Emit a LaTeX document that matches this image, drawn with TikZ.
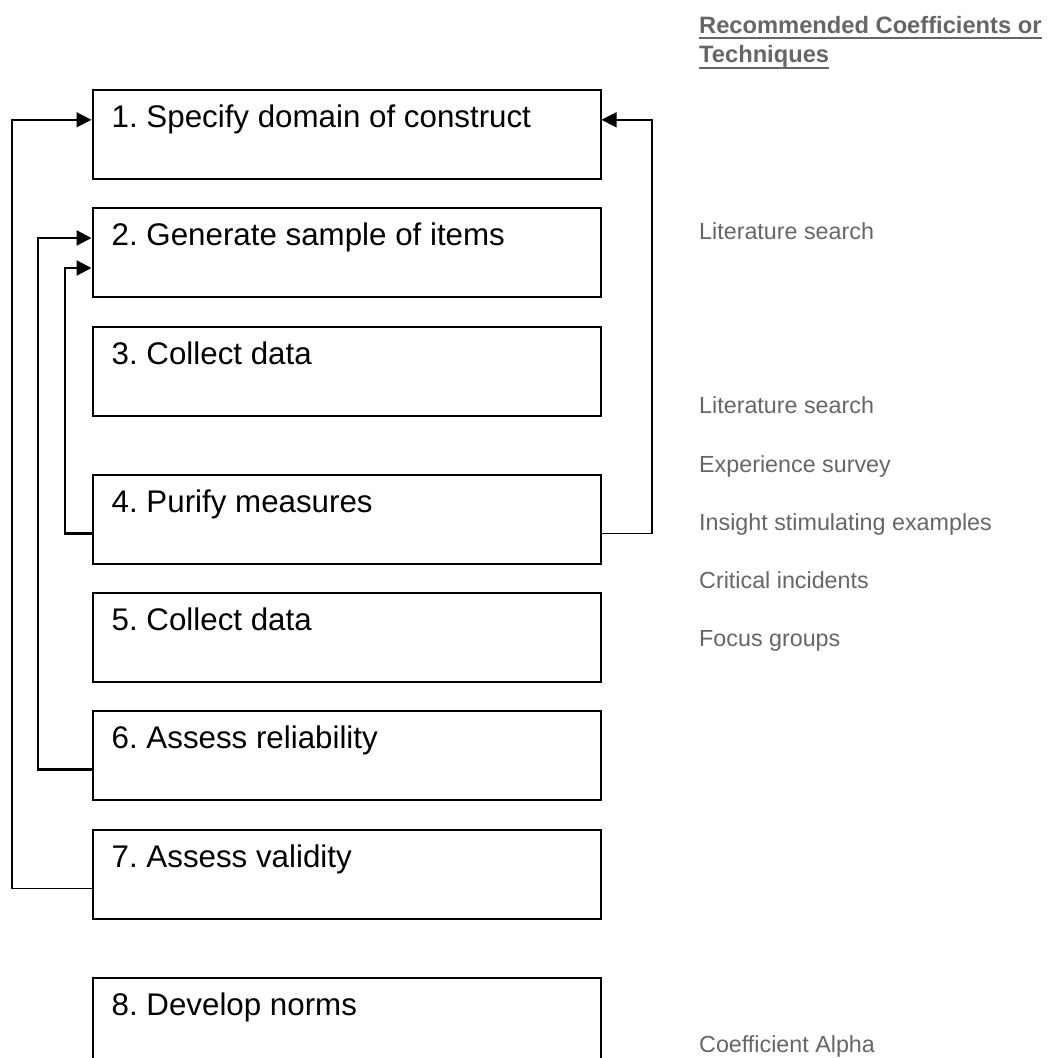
\documentclass[tikz,border=0pt]{standalone}
\usepackage{fontspec}
\setmainfont{Liberation Sans}
\usetikzlibrary{arrows.meta}
\definecolor{notegray}{HTML}{666666}
\frenchspacing
\begin{document}
\begin{tikzpicture}[x=1bp,y=-1bp,
  stepbox/.style={draw, line width=2bp, minimum width=508bp, minimum height=89bp,
    anchor=north west, inner sep=0pt},
  steptext/.style={anchor=base west, inner sep=0pt,
    font=\fontsize{31.3bp}{37bp}\selectfont},
  note/.style={anchor=base west, inner sep=0pt, text=notegray,
    font=\fontsize{23.3bp}{28bp}\selectfont},
  head/.style={anchor=base west, inner sep=0pt, text=notegray,
    font=\fontsize{23.7bp}{28bp}\selectfont\bfseries},
  headrule/.style={draw=notegray, line width=2bp},
  loop/.style={line width=1.6bp, -{Triangle[length=15bp,width=15bp]}},
  loopthick/.style={loop, line width=2.4bp}]

\clip (0,0) rectangle (1051,1058);
\useasboundingbox (0,0) rectangle (1051,1058);

% process steps
\node[stepbox] (b1) at (91.5,88.8) {};
\node[stepbox] (b2) at (91.5,207) {};
\node[stepbox] (b3) at (91.5,325.5) {};
\node[stepbox] (b4) at (91.5,473.5) {};
\node[stepbox] (b5) at (91.5,592) {};
\node[stepbox] (b6) at (91.5,709.5) {};
\node[stepbox] (b7) at (91.5,828.5) {};
\node[stepbox] (b8) at (91.5,976.5) {};

\node[steptext] (t1) at ([xshift=20bp,yshift=-38.7bp]b1.north west) {1. Specify domain of construct};
\node[steptext] (t2) at ([xshift=20bp,yshift=-38.7bp]b2.north west) {2. Generate sample of items};
\node[steptext] (t3) at ([xshift=20bp,yshift=-38.7bp]b3.north west) {3. Collect data};
\node[steptext] (t4) at ([xshift=20bp,yshift=-38.7bp]b4.north west) {4. Purify measures};
\node[steptext] (t5) at ([xshift=20bp,yshift=-38.7bp]b5.north west) {5. Collect data};
\node[steptext] (t6) at ([xshift=20bp,yshift=-38.7bp]b6.north west) {6. Assess reliability};
\node[steptext] (t7) at ([xshift=20bp,yshift=-38.7bp]b7.north west) {7. Assess validity};
\node[steptext] (t8) at ([xshift=20bp,yshift=-38.7bp]b8.north west) {8. Develop norms};

% feedback rails
\coordinate (railA) at (12,0);
\coordinate (railB) at (38,0);
\coordinate (railC) at (65,0);
\coordinate (railD) at (652,0);

\draw[loop] ([yshift=-14.5bp]b7.west) -- ([yshift=-14.5bp]b7.west -| railA)
  -- ([yshift=14.5bp]b1.west -| railA) -- ([yshift=14.5bp]b1.west);
\draw[loopthick] ([yshift=-14.5bp]b6.west) -- ([yshift=-14.5bp]b6.west -| railB)
  -- ([yshift=14.5bp]b2.west -| railB) -- ([yshift=14.5bp]b2.west);
\draw[loopthick] ([yshift=-14.5bp]b4.west) -- ([yshift=-14.5bp]b4.west -| railC)
  -- ([yshift=-15.5bp]b2.west -| railC) -- ([yshift=-15.5bp]b2.west);
\draw[loop] ([yshift=-14.5bp]b4.east) -- ([yshift=-14.5bp]b4.east -| railD)
  -- ([yshift=14.5bp]b1.east -| railD) -- ([yshift=14.5bp]b1.east);

% recommended coefficients or techniques
\node[head] (h1) at (699,33.5) {Recommended Coefficients or};
\node[head] (h2) at (699,62) {Techniques};
\draw[headrule] ([yshift=-4.5bp]h1.base west) -- ([yshift=-4.5bp]h1.base east);
\draw[headrule] ([yshift=-5.5bp]h2.base west) -- ([yshift=-5.5bp]h2.base east);

\node[note] (n1) at (699,239.3) {Literature search};
\node[note] (n2) at (699,413.3) {Literature search};
\node[note] (n3) at (699,472.5) {Experience survey};
\node[note] (n4) at (699,530.5) {Insight stimulating examples};
\node[note] (n5) at (699,588.3) {Critical incidents};
\node[note] (n6) at (699,646.5) {Focus groups};
\node[note] (n7) at (699,1052.5) {Coefficient Alpha};
\end{tikzpicture}
\end{document}
